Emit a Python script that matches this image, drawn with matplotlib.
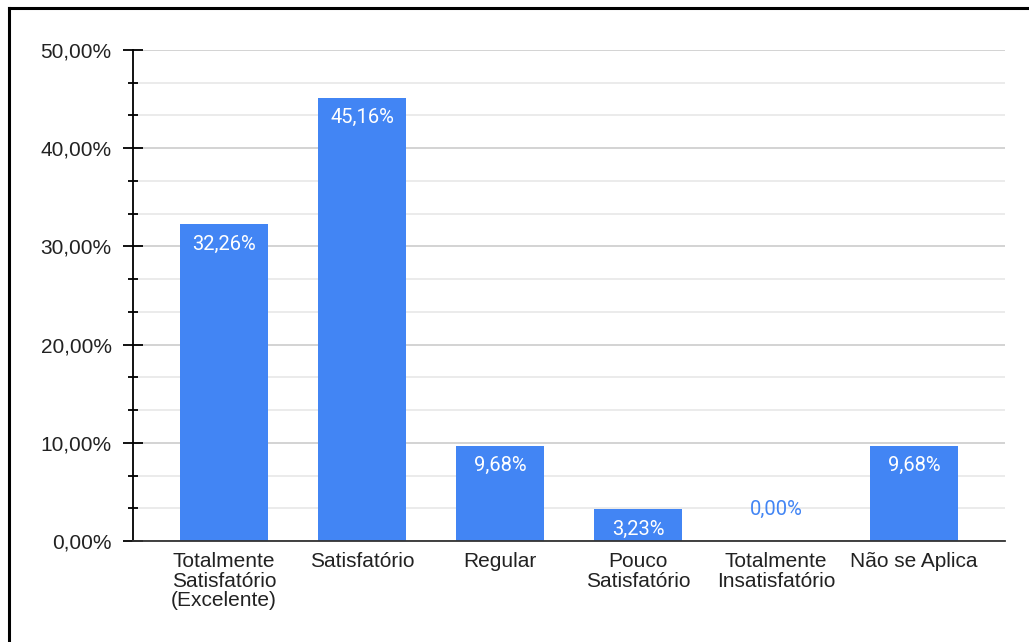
import matplotlib.pyplot as plt
from matplotlib.ticker import MultipleLocator, FuncFormatter
from matplotlib.lines import Line2D

plt.rcParams["font.family"] = ["Liberation Sans", "DejaVu Sans"]

categories = ["Totalmente\nSatisfatório\n(Excelente)", "Satisfatório", "Regular",
              "Pouco\nSatisfatório", "Totalmente\nInsatisfatório", "Não se Aplica"]
values = [32.26, 45.16, 9.68, 3.23, 0.00, 9.68]

BLUE = "#4285F4"

fig = plt.figure(figsize=(10.29, 6.42), dpi=100)
ax = fig.add_axes([0.1293, 0.1573, 0.8474, 0.7648])

x = range(len(categories))
ax.bar(x, values, width=0.64, color=BLUE, zorder=3)

ax.set_xlim(-0.66, len(categories) - 1 + 0.66)
ax.set_ylim(0, 50)

# y axis: majors every 10, two minor lines between
ax.yaxis.set_major_locator(MultipleLocator(10))
ax.yaxis.set_minor_locator(MultipleLocator(10 / 3))
ax.yaxis.set_major_formatter(FuncFormatter(lambda v, p: f"{v:.2f}%".replace(".", ",")))
ax.grid(axis="y", which="major", color="#cccccc", lw=1.2, zorder=0)
ax.grid(axis="y", which="minor", color="#e8e8e8", lw=1.2, zorder=0)
ax.tick_params(axis="y", which="major", direction="inout", length=15, width=1.3,
               color="black", labelsize=15, labelcolor="#222222", pad=8)
ax.tick_params(axis="y", which="minor", direction="inout", length=6.5, width=1.3, color="black")

ax.set_xticks(list(x))
ax.set_xticklabels(categories, fontsize=15, color="#222222", linespacing=1.03)
ax.tick_params(axis="x", length=0, pad=8)

for s in ["top", "right"]:
    ax.spines[s].set_visible(False)
ax.spines["left"].set_color("black")
ax.spines["left"].set_linewidth(1.3)
ax.spines["bottom"].set_color("#333333")
ax.spines["bottom"].set_linewidth(1.3)
ax.spines["bottom"].set_zorder(4)

for xi, v in zip(x, values):
    lab = f"{v:.2f}%".replace(".", ",")
    if v > 2:
        ax.annotate(lab, (xi, v), xytext=(0, -7.5), textcoords="offset points",
                    ha="center", va="top", color="white", fontsize=14.5,
                    family="Roboto", zorder=5)
    else:
        ax.annotate(lab, (xi, v), xytext=(0, 22.5), textcoords="offset points",
                    ha="center", va="center", color=BLUE, fontsize=14.5,
                    family="Roboto", zorder=5)

# frame of the screenshot crop
fig.add_artist(Line2D([0.0088, 0.0088], [0, 0.9875], color="black", lw=2.2,
                      transform=fig.transFigure))
fig.add_artist(Line2D([0.0088, 1], [0.9875, 0.9875], color="black", lw=2.2,
                      transform=fig.transFigure))

fig.savefig("out.png", dpi=100)
